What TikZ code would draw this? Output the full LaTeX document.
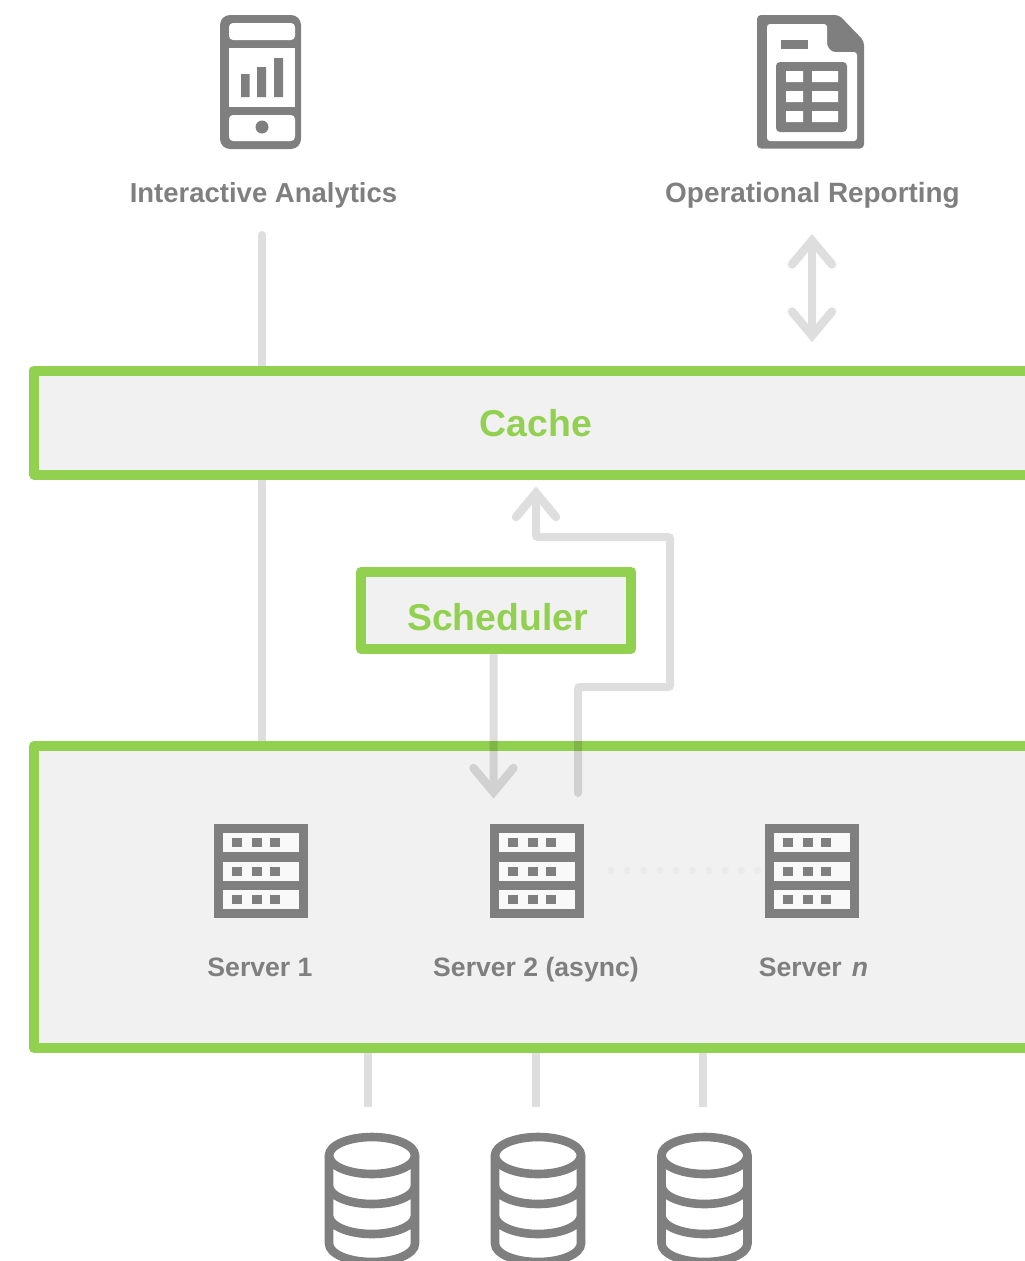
\documentclass[tikz,border=0pt]{standalone}
\usepackage{fontspec}
\setmainfont{Liberation Sans}
\usetikzlibrary{backgrounds,calc}
\definecolor{grn}{HTML}{92D050}
\definecolor{icn}{HTML}{7F7F7F}
\definecolor{conn}{HTML}{DEDEDE}
\definecolor{pane}{HTML}{F1F1F1}
\definecolor{dotc}{HTML}{EBEBEB}
\newcommand{\upchev}[1]{\draw[chevline] (#1) ++(-20,30) -- ++(20,-24) -- ++(20,24);}
\newcommand{\dnchev}[1]{\draw[chevline] (#1) ++(-20,-30) -- ++(20,24) -- ++(20,-24);}
\tikzset{
  panel/.style={draw=grn,line width=10pt,fill=pane,line join=round,inner sep=0pt,outer sep=0pt,anchor=north west},
  conline/.style={draw=conn,line width=8pt},
  shaft/.style={draw=black,line width=8pt,line cap=round,rounded corners=2pt},
  chevline/.style={draw=black,line width=8.5pt,line cap=round,line join=miter},
  glass/.style={transparency group,opacity=0.13},
  lab/.style={text=icn,font=\bfseries\fontsize{#1}{30}\selectfont,inner sep=0pt,anchor=base},
  srvlab/.style={text=icn,font=\bfseries\fontsize{26.6}{30}\selectfont,inner sep=0pt,anchor=base},
  grnlab/.style={text=grn,font=\bfseries\fontsize{37.4}{40}\selectfont,inner sep=0pt,anchor=base},
  icnline/.style={draw=icn,line width=8.6pt},
  srv/.pic={
    \fill[icn] (0,0) rectangle (94,94);
    \foreach \r in {9,38,66}{
      \fill[pane!40!white] (9,\r) rectangle (85,\r+19);
      \foreach \c in {18,38,56}{\fill[icn] (\c,\r+5) rectangle (\c+10,\r+14);}
    }
  },
  cyl/.pic={
    \draw[icnline] (-43,30) arc[start angle=180,end angle=0,x radius=43,y radius=18.5]
       (-43,60) arc[start angle=180,end angle=0,x radius=43,y radius=18.5]
       (-43,0) -- (-43,88) arc[start angle=180,end angle=0,x radius=43,y radius=18.5] -- (43,0);
    \draw[icnline] (0,0) ellipse[x radius=43,y radius=18.5];
  }
}
\begin{document}
\begin{tikzpicture}[x=1pt,y=-1pt]
\useasboundingbox (0,0) rectangle (1025,1261);
\clip (0,0) rectangle (1025,1261);

% panels
\node[panel,minimum width=1100pt,minimum height=104pt] (cache) at (34,370.5) {};
\node[panel,minimum width=1100pt,minimum height=302pt] (pool) at (34,746) {};
\node[panel,minimum width=270pt,minimum height=77pt] (sched) at (361,572) {};
\node[grnlab] (cachelab) at (536,436.5) {Cache};
\node[grnlab] (schedlab) at (497.5,630.5) {Scheduler};

% top labels
\node[lab=27.5] (ia) at (263.5,202) {Interactive Analytics};
\node[lab=27.9] (or) at (812.5,202) {Operational Reporting};

% free ends
\coordinate (iatop) at (262,235);
\coordinate (orup) at (812,234.5);
\coordinate (ordn) at (812,341.5);
\coordinate (schedtip) at (493.5,798);
\coordinate (retstart) at (578,793);
\coordinate (rettip) at (536,487);
\coordinate (d1a) at (368,1103);
\coordinate (d2a) at (536,1103);
\coordinate (d3a) at (703,1103);

% connectors
\begin{scope}[on background layer]
  \draw[conline,line cap=round] (iatop) -- (iatop |- pool.north);
\end{scope}
\begin{scope}[glass]
  \draw[shaft] (orup) ++(0,10) -- ($(ordn)+(0,-10)$);
  \upchev{orup}
  \dnchev{ordn}
\end{scope}
\begin{scope}[glass]
  \draw[shaft] (retstart) -- (578,687) -- (670,687) -- (670,537) -- (536,537) -- (536,497);
  \upchev{rettip}
\end{scope}
\begin{scope}[glass]
  \draw[draw=black,line width=8pt] (sched.south -| schedtip) ++(0,5) -- ($(schedtip)+(0,-8)$);
  \dnchev{schedtip}
\end{scope}
\draw[conline] (pool.south -| d1a) ++(0,5) -- ($(d1a)+(0,3.5)$);
\draw[conline] (pool.south -| d2a) ++(0,5) -- ($(d2a)+(0,3.5)$);
\draw[conline] (pool.south -| d3a) ++(0,5) -- ($(d3a)+(0,3.5)$);

% phone icon
\fill[icn,rounded corners=10pt] (220,15) rectangle (301,149);
\fill[white,rounded corners=4pt] (229,23) rectangle (295,40);
\fill[white] (229,48) rectangle (295,107);
\fill[white,rounded corners=4pt] (229,115) rectangle (295,141);
\fill[icn] (241,74) rectangle (249.5,97) (257,67) rectangle (266,97) (274,58) rectangle (283,97);
\fill[icn] (262,127) circle[radius=6.5];

% document icon
\fill[icn,rounded corners=4pt] (757,15) -- (839,15) -- (864,41) -- (864,148.5) -- (757,148.5) -- cycle;
\fill[white,rounded corners=3pt] (767,24) -- (827,24) -- (827,46) -- (832,52) -- (857,52) -- (857,141) -- (767,141) -- cycle;
\fill[icn] (781,40) rectangle (808,49);
\fill[icn,rounded corners=4pt] (776,62) rectangle (847,132);
\foreach \yy in {71,91,111}{
  \fill[white] (786,\yy) rectangle (803,\yy+11) (812,\yy) rectangle (838,\yy+11);
}

% servers
\pic at (214,824) {srv};
\pic at (490,824) {srv};
\pic at (765,824) {srv};
\foreach \xx in {611,627.3,643.6,659.9,676.2,692.5,708.8,725.1,741.4,757.7}{
  \fill[dotc] (\xx,870.5) circle[radius=3.7];
}
\node[srvlab] (s1) at (260,976.5) {Server 1};
\node[srvlab] (s2) at (536,976.5) {Server 2 (async)};
\node[srvlab] (s3) at (813.5,976.5) {Server\hspace{0.1em} \textit{n}};

% databases
\pic at (372,1155.5) {cyl};
\pic at (538,1155.5) {cyl};
\pic at (704.5,1155.5) {cyl};
\end{tikzpicture}
\end{document}
